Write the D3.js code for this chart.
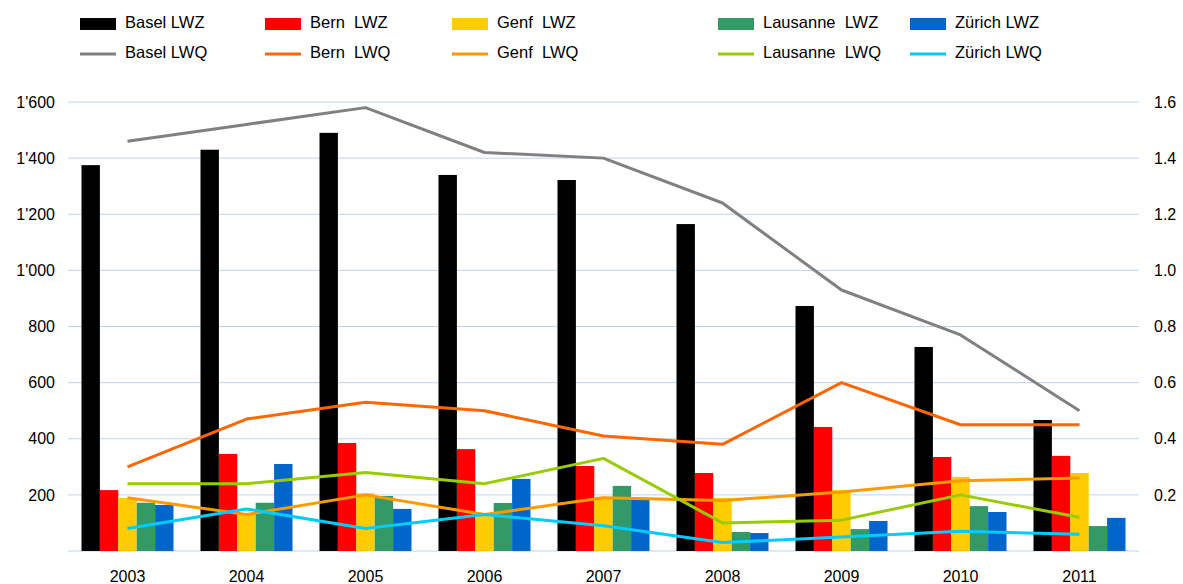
<!DOCTYPE html>
<html>
<head>
<meta charset="utf-8">
<script src="https://cdn.jsdelivr.net/npm/d3@7"></script>
<style>
  body { margin: 0; background: #fff; }
  text { font-family: "Liberation Sans", Arial, sans-serif; fill: #000; }
</style>
</head>
<body>
<div id="chart"></div>
<script>
// categories
const years = ["2003", "2004", "2005", "2006", "2007", "2008", "2009", "2010", "2011"]

// bar series (left axis)
const barNames = ["Basel LWZ", "Bern  LWZ", "Genf  LWZ", "Lausanne  LWZ", "Zürich LWZ"]
const baselLWZ   = [1375, 1430, 1490, 1340, 1322, 1165, 873, 727, 467]
const bernLWZ    = [217, 346, 385, 363, 303, 278, 442, 335, 339]
const genfLWZ    = [189, 135, 206, 128, 193, 189, 217, 264, 278]
const lausanneLWZ = [172, 172, 196, 171, 232, 68, 78, 160, 89]
const zuerichLWZ = [164, 310, 150, 257, 182, 64, 107, 139, 118]

// line series (right axis)
const lineNames = ["Basel LWQ", "Bern  LWQ", "Genf  LWQ", "Lausanne  LWQ", "Zürich LWQ"]
const baselLWQ    = [1.46, 1.52, 1.58, 1.42, 1.40, 1.24, 0.93, 0.77, 0.50]
const bernLWQ     = [0.30, 0.47, 0.53, 0.50, 0.41, 0.38, 0.60, 0.45, 0.45]
const genfLWQ     = [0.19, 0.13, 0.20, 0.13, 0.19, 0.18, 0.21, 0.25, 0.26]
const lausanneLWQ = [0.24, 0.24, 0.28, 0.24, 0.33, 0.10, 0.11, 0.20, 0.12]
const zuerichLWQ  = [0.08, 0.15, 0.08, 0.13, 0.09, 0.03, 0.05, 0.07, 0.06]

const leftTicks = [200, 400, 600, 800, 1000, 1200, 1400, 1600]
const rightTicks = [0.2, 0.4, 0.6, 0.8, 1.0, 1.2, 1.4, 1.6]

const barColors = ["#000000", "#ff0000", "#ffcc00", "#339966", "#0066cc"]
const lineColors = ["#808080", "#ff6600", "#ff9900", "#99cc00", "#00ccff"]

const barSeries = [baselLWZ, bernLWZ, genfLWZ, lausanneLWZ, zuerichLWZ]
const lineSeries = [baselLWQ, bernLWQ, genfLWQ, lausanneLWQ, zuerichLWQ]

const width = 1183
const height = 584
const plot = { left: 68, right: 1139, top: 102, bottom: 551 }

const svg = d3.select("#chart")
    .append("svg")
    .attr("width", width)
    .attr("height", height)

const xScale = d3.scaleBand()
    .domain(years)
    .range([plot.left, plot.right])

const groupScale = d3.scaleBand()
    .domain(d3.range(barNames.length))
    .range([13.5, xScale.bandwidth() - 13.5])

const yScale = d3.scaleLinear()
    .domain([0, 1600])
    .range([plot.bottom, plot.top])

const yRight = d3.scaleLinear()
    .domain([0, 1.6])
    .range([plot.bottom, plot.top])

const swiss = d3.formatLocale({ decimal: ".", thousands: "'", grouping: [3], currency: ["", ""] })

// gridlines (incl. baseline)
svg.append("g")
    .selectAll("line")
    .data([0].concat(leftTicks))
    .join("line")
    .attr("x1", plot.left)
    .attr("x2", plot.right)
    .attr("y1", d => yScale(d))
    .attr("y2", d => yScale(d))
    .attr("stroke", "#b8d6f4")
    .attr("stroke-width", 1)

// left axis
const leftAxis = d3.axisLeft(yScale)
    .tickValues(leftTicks)
    .tickFormat(swiss.format(","))
    .tickSize(0)
    .tickPadding(13)

const leftG = svg.append("g")
    .attr("transform", `translate(${plot.left}, 0)`)
    .call(leftAxis)
leftG.select(".domain").remove()
leftG.selectAll("text").style("font-size", "16px").attr("fill", "#000")

// right axis
const rightAxis = d3.axisRight(yRight)
    .tickValues(rightTicks)
    .tickFormat(d3.format(".1f"))
    .tickSize(0)
    .tickPadding(15)

const rightG = svg.append("g")
    .attr("transform", `translate(${plot.right}, 0)`)
    .call(rightAxis)
rightG.select(".domain").remove()
rightG.selectAll("text").style("font-size", "16px").attr("fill", "#000")

// x axis
const bottomAxis = d3.axisBottom(xScale)
    .tickSize(0)
    .tickPadding(20)

const bottomG = svg.append("g")
    .attr("transform", `translate(0, ${plot.bottom})`)
    .call(bottomAxis)
bottomG.select(".domain").remove()
bottomG.selectAll("text").style("font-size", "16px").attr("fill", "#000")

// bars
barSeries.forEach((values, s) => {
    svg.append("g")
        .selectAll("rect")
        .data(values)
        .join("rect")
        .attr("x", (d, i) => xScale(years[i]) + groupScale(s))
        .attr("y", d => yScale(d))
        .attr("width", groupScale.bandwidth())
        .attr("height", d => plot.bottom - yScale(d))
        .attr("fill", barColors[s])
})

// lines
const line = d3.line()
    .x((d, i) => xScale(years[i]) + xScale.bandwidth() / 2)
    .y(d => yRight(d))

lineSeries.forEach((values, s) => {
    svg.append("path")
        .datum(values)
        .attr("d", line)
        .attr("fill", "none")
        .attr("stroke", lineColors[s])
        .attr("stroke-width", 3)
        .attr("stroke-linejoin", "round")
})

// legend
const legendX = [80, 265, 452, 718, 910]

const legend = svg.append("g")
legendX.forEach((lx, i) => {
    legend.append("rect")
        .attr("x", lx)
        .attr("y", 18)
        .attr("width", 36)
        .attr("height", 12)
        .attr("fill", barColors[i])
    legend.append("text")
        .attr("x", lx + 45)
        .attr("y", 22)
        .attr("dy", "0.35em")
        .style("font-size", "16.5px")
        .style("white-space", "pre")
        .text(barNames[i])

    legend.append("line")
        .attr("x1", lx)
        .attr("x2", lx + 36)
        .attr("y1", 54)
        .attr("y2", 54)
        .attr("stroke", lineColors[i])
        .attr("stroke-width", 3)
    legend.append("text")
        .attr("x", lx + 45)
        .attr("y", 52)
        .attr("dy", "0.35em")
        .style("font-size", "16.5px")
        .style("white-space", "pre")
        .text(lineNames[i])
})
</script>
</body>
</html>
